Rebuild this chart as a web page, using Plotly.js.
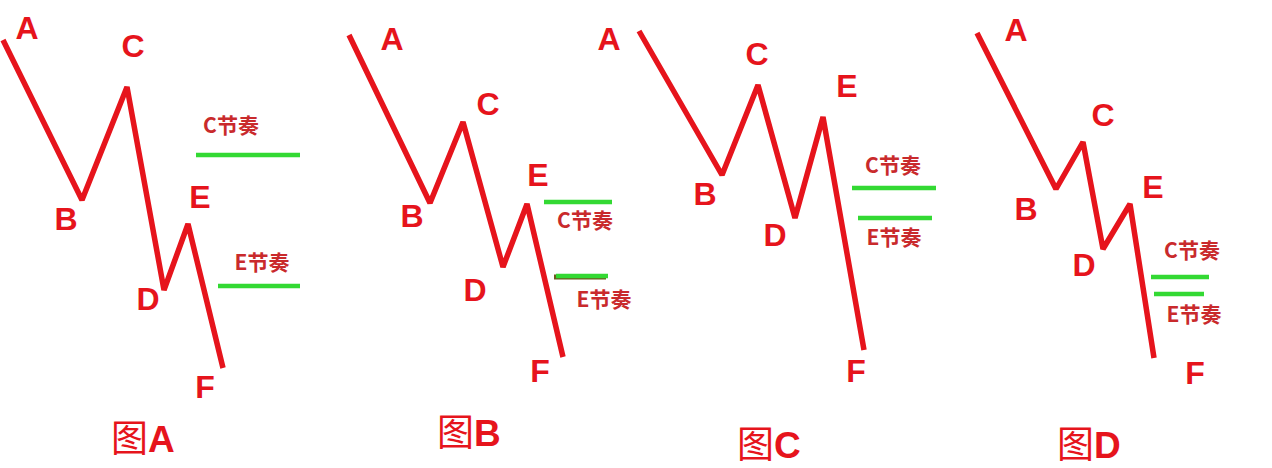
<!DOCTYPE html>
<html>
<head>
<meta charset="utf-8">
<script src="https://cdn.plot.ly/plotly-3.0.1.min.js"></script>
<style>html,body{margin:0;padding:0;background:#fff;}#chart{width:1272px;height:468px;}</style>
</head>
<body>
<div id="chart"></div>
<script>
// Wave points A..F for each panel (x, y in picture units, y downward)
const pointNames = ['A','B','C','D','E','F'];
const waveAx = [3, 82, 127, 164, 188, 223];
const waveAy = [40, 200, 87, 290, 224, 368];
const waveBx = [349, 430, 463, 503, 527, 563];
const waveBy = [35, 203, 122, 267, 204, 357];
const waveCx = [639, 722, 758, 795, 823, 864];
const waveCy = [31, 175, 85, 218, 117, 350];
const waveDx = [977, 1056, 1083, 1103, 1130, 1154];
const waveDy = [33, 189, 142, 249, 204, 358];

// letter label positions
const labelAx = [27, 66, 133, 148, 200, 205];
const labelAy = [31, 222, 49, 302, 200, 390];
const labelBx = [392, 412, 488, 475, 538, 540];
const labelBy = [42, 219, 107, 293, 178, 374];
const labelCx = [609, 705, 757, 775, 847, 856];
const labelCy = [42, 197, 57, 238, 89, 374];
const labelDx = [1016, 1026, 1103, 1084, 1153, 1195];
const labelDy = [33, 212, 118, 268, 190, 376];

// rhythm levels (C节奏 / E节奏) per panel: [x0, x1, y]
const rhythmNames = ['C节奏', 'E节奏'];
const rhythmA = [[196, 300, 155], [218, 300, 286]];
const rhythmB = [[544, 612, 202], [556, 608, 276]];
const rhythmC = [[852, 936, 188], [858, 932, 218]];
const rhythmD = [[1151, 1209, 277], [1154, 1204, 294]];
const rhythmLabelA = [[231, 128], [262, 265]];
const rhythmLabelB = [[585, 223], [604, 302]];
const rhythmLabelC = [[893, 168], [894, 240]];
const rhythmLabelD = [[1192, 253], [1194, 317]];

const panelTitles = ['图A', '图B', '图C', '图D'];
const titleX = [143, 469, 769, 1089];
const titleY = [436, 430, 442, 442];

const RED = '#e6141c';
const DARKRED = '#c92a2c';
const GREEN = '#33d933';

const waves = [[waveAx, waveAy], [waveBx, waveBy], [waveCx, waveCy], [waveDx, waveDy]];
const labels = [[labelAx, labelAy], [labelBx, labelBy], [labelCx, labelCy], [labelDx, labelDy]];
const rhythms = [rhythmA, rhythmB, rhythmC, rhythmD];
const rhythmLabels = [rhythmLabelA, rhythmLabelB, rhythmLabelC, rhythmLabelD];

const traces = [];
waves.forEach(([xs, ys]) => {
  traces.push({x: xs, y: ys, mode: 'lines', type: 'scatter',
    line: {color: RED, width: 5.5, shape: 'linear'}, hoverinfo: 'skip'});
});
rhythms.forEach((levels, pi) => {
  levels.forEach((lv, li) => {
    if (pi === 1 && li === 1) {
      // darker shadow under panel B's E line
      traces.push({x: [lv[0] - 2, lv[1] - 2], y: [lv[2] + 1, lv[2] + 1], mode: 'lines', type: 'scatter',
        line: {color: '#6b5a1e', width: 5}, hoverinfo: 'skip'});
    }
    traces.push({x: [lv[0], lv[1]], y: [lv[2], lv[2]], mode: 'lines', type: 'scatter',
      line: {color: GREEN, width: 4.5}, hoverinfo: 'skip'});
  });
});
labels.forEach(([xs, ys]) => {
  traces.push({x: xs, y: ys, text: pointNames, mode: 'text', type: 'scatter',
    textfont: {family: 'Liberation Sans, Arial, sans-serif', size: 32, color: RED, weight: 'bold'},
    hoverinfo: 'skip'});
});
rhythmLabels.forEach((pos, pi) => {
  traces.push({x: pos.map(p => p[0]), y: pos.map(p => p[1]), text: rhythmNames, mode: 'text', type: 'scatter',
    textfont: {family: 'Noto Sans CJK SC, sans-serif', size: 21, color: DARKRED, weight: 'bold'},
    hoverinfo: 'skip'});
});

const annotations = panelTitles.map((t, i) => ({
  x: titleX[i], y: titleY[i], xref: 'x', yref: 'y', showarrow: false,
  text: '<span style="font-family:Noto Sans CJK SC;font-weight:normal">' + t.charAt(0) + '</span><b>' + t.charAt(1) + '</b>',
  font: {family: 'Liberation Sans, Arial, sans-serif', size: 37, color: RED}
}));

const layout = {
  width: 1272, height: 468,
  margin: {l: 0, r: 0, t: 0, b: 0},
  paper_bgcolor: '#ffffff', plot_bgcolor: '#ffffff',
  showlegend: false,
  xaxis: {range: [0, 1272], visible: false, fixedrange: true},
  yaxis: {range: [468, 0], visible: false, fixedrange: true},
  annotations: annotations
};

Plotly.newPlot('chart', traces, layout, {staticPlot: true, displayModeBar: false});
</script>
</body>
</html>
